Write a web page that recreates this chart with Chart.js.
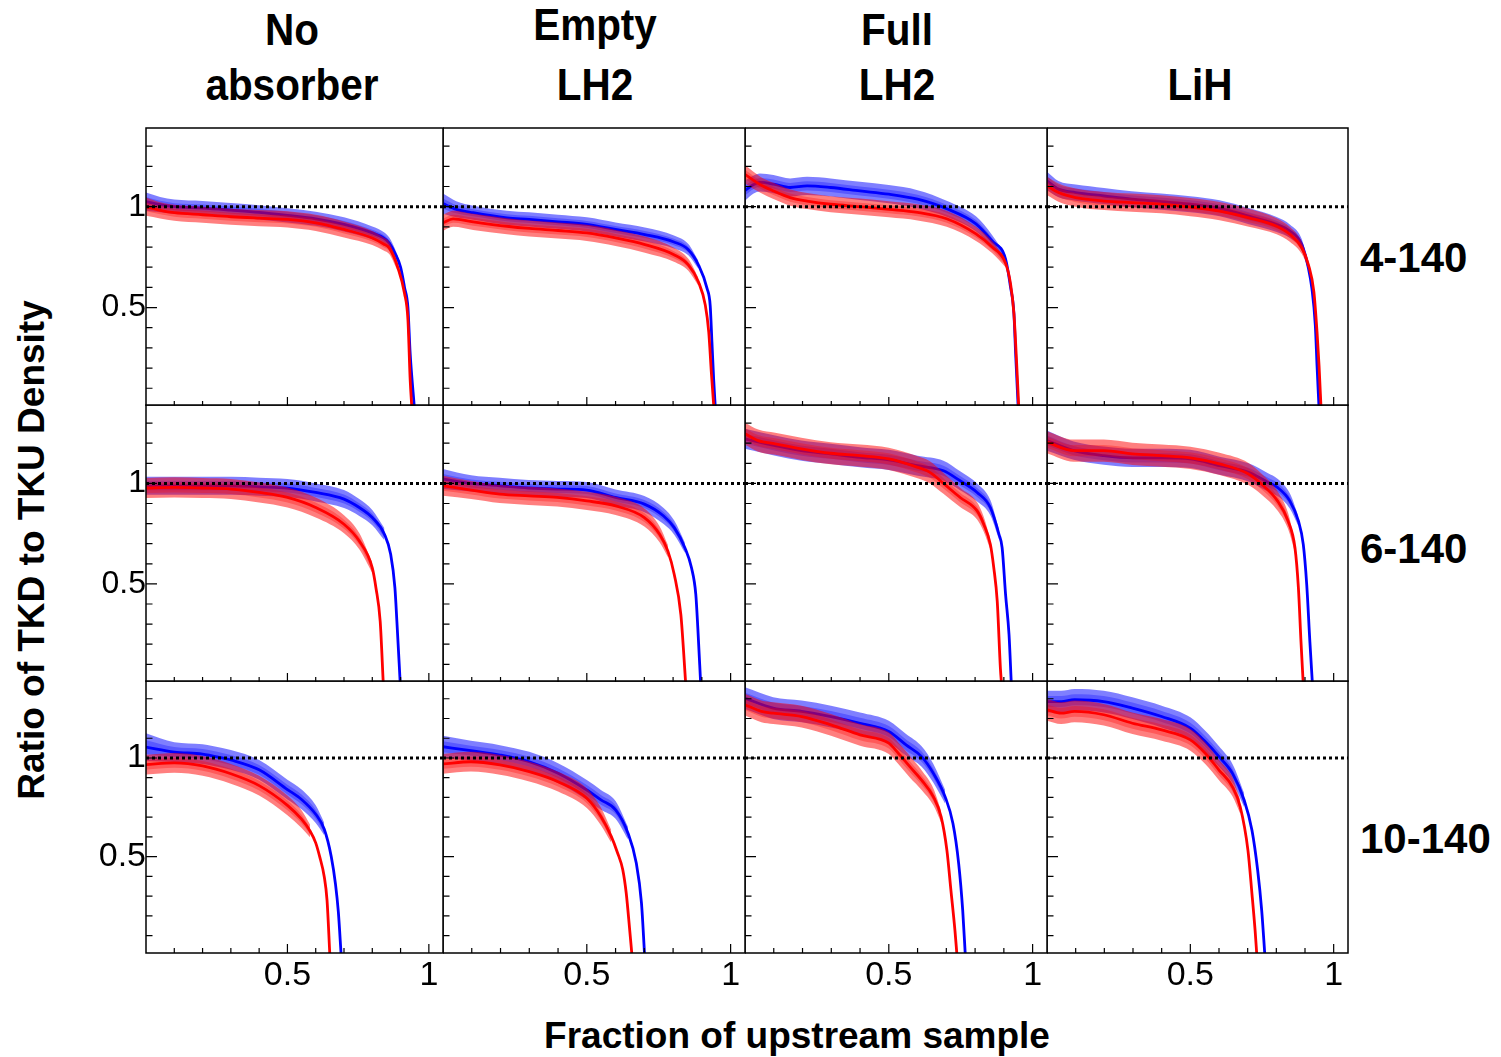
<!DOCTYPE html>
<html>
<head>
<meta charset="utf-8">
<script src="https://cdn.jsdelivr.net/npm/chart.js@4.4.1/dist/chart.umd.min.js"></script>
<style>
    html, body { margin: 0; padding: 0; background: #fff; }
    body { width: 1501px; height: 1057px; position: relative; overflow: hidden; font-family: "Liberation Sans", Arial, sans-serif; }
    canvas { position: absolute; }
    .txt { position: absolute; font-weight: bold; white-space: nowrap; color: #000; }
</style>
</head>
<body>
<script>
// [x, ratio, band half-width] for each curve
const blue_4_noAbs = [[0,1.025,.045],[0.05,1.01,.038],[0.1,1.0,.035],[0.2,0.993,.035],[0.3,0.983,.035],[0.4,0.972,.035],[0.5,0.957,.035],[0.6,0.94,.035],[0.7,0.912,.035],[0.8,0.87,.032],[0.84,0.845,.03],[0.86,0.82,.027],[0.88,0.77,.022],[0.9,0.70,.015],[0.914,0.60,0],[0.926,0.50,0],[0.934,0.27,0],[0.949,0,0]];
const red_4_noAbs = [[0,1.0,.045],[0.05,0.982,.04],[0.1,0.97,.04],[0.2,0.96,.04],[0.3,0.95,.04],[0.4,0.943,.04],[0.5,0.937,.04],[0.6,0.92,.04],[0.7,0.887,.04],[0.8,0.845,.035],[0.84,0.815,.032],[0.86,0.795,.03],[0.89,0.70,.02],[0.914,0.57,0],[0.926,0.44,0],[0.934,0.14,0],[0.94,0,0]];
const blue_4_emptyLH2 = [[0,1.015,.05],[0.046,0.987,.04],[0.105,0.97,.035],[0.222,0.945,.035],[0.3,0.937,.035],[0.4,0.925,.035],[0.5,0.912,.035],[0.6,0.887,.035],[0.702,0.862,.035],[0.803,0.825,.032],[0.853,0.787,.028],[0.888,0.712,.02],[0.918,0.595,0],[0.929,0.51,0],[0.935,0.33,0],[0.941,0.145,0],[0.947,0,0]];
const red_4_emptyLH2 = [[0,0.92,.04],[0.035,0.94,.04],[0.105,0.925,.04],[0.222,0.903,.04],[0.3,0.892,.04],[0.4,0.882,.04],[0.5,0.87,.04],[0.6,0.845,.04],[0.702,0.812,.04],[0.803,0.762,.035],[0.853,0.712,.03],[0.888,0.628,.02],[0.912,0.512,0],[0.924,0.378,0],[0.933,0.178,0],[0.942,0,0]];
const blue_4_fullLH2 = [[0,1.08,.05],[0.03,1.11,.045],[0.052,1.12,.045],[0.099,1.112,.045],[0.157,1.095,.045],[0.216,1.103,.045],[0.298,1.095,.045],[0.4,1.078,.045],[0.5,1.062,.045],[0.6,1.037,.045],[0.701,0.99,.04],[0.803,0.915,.037],[0.859,0.83,.03],[0.906,0.74,.02],[0.923,0.603,0],[0.935,0.47,0],[0.941,0.27,0],[0.95,0,0]];
const red_4_fullLH2 = [[0,1.16,.045],[0.052,1.11,.04],[0.099,1.078,.04],[0.157,1.045,.04],[0.216,1.028,.04],[0.298,1.012,.04],[0.4,1.0,.04],[0.5,0.987,.04],[0.6,0.972,.04],[0.701,0.94,.04],[0.803,0.865,.035],[0.859,0.8,.03],[0.906,0.72,.02],[0.923,0.62,0],[0.935,0.47,0],[0.944,0.237,0],[0.952,0,0]];
const blue_4_lih = [[0,1.128,.045],[0.04,1.087,.04],[0.1,1.07,.04],[0.199,1.053,.04],[0.295,1.037,.04],[0.398,1.025,.04],[0.5,1.012,.04],[0.602,0.992,.04],[0.704,0.953,.04],[0.801,0.912,.037],[0.848,0.878,.033],[0.889,0.812,.027],[0.912,0.695,.015],[0.924,0.595,0],[0.936,0.412,0],[0.942,0.212,0],[0.949,0,0]];
const red_4_lih = [[0,1.103,.045],[0.04,1.07,.045],[0.1,1.045,.045],[0.199,1.028,.045],[0.295,1.02,.045],[0.398,1.012,.045],[0.5,0.998,.045],[0.602,0.978,.045],[0.704,0.945,.045],[0.801,0.903,.04],[0.848,0.862,.037],[0.889,0.795,.03],[0.912,0.712,.02],[0.931,0.578,0],[0.942,0.378,0],[0.949,0.212,0],[0.956,0,0]];

const blue_6_noAbs = [[0,0.988,.045],[0.1,0.988,.045],[0.2,0.988,.045],[0.3,0.988,.045],[0.4,0.983,.045],[0.5,0.977,.045],[0.6,0.955,.045],[0.7,0.922,.045],[0.754,0.88,.042],[0.8,0.83,.038],[0.843,0.747,.03],[0.865,0.647,0],[0.88,0.48,0],[0.887,0.313,0],[0.899,0,0]];
const red_6_noAbs = [[0,0.977,.05],[0.1,0.98,.05],[0.2,0.977,.05],[0.3,0.972,.05],[0.4,0.955,.05],[0.5,0.93,.05],[0.6,0.88,.05],[0.7,0.797,.045],[0.754,0.713,.04],[0.8,0.58,.025],[0.813,0.48,0],[0.828,0.313,0],[0.839,0,0]];
const blue_6_emptyLH2 = [[0,1.022,.05],[0.098,1.0,.04],[0.197,0.988,.04],[0.298,0.977,.04],[0.397,0.972,.04],[0.5,0.967,.04],[0.6,0.93,.04],[0.7,0.897,.04],[0.767,0.838,.04],[0.804,0.78,.035],[0.841,0.68,.025],[0.864,0.58,0],[0.879,0.447,0],[0.886,0.28,0],[0.896,0,0]];
const red_6_emptyLH2 = [[0,0.988,.05],[0.098,0.967,.045],[0.197,0.947,.045],[0.298,0.938,.045],[0.397,0.93,.045],[0.5,0.913,.045],[0.6,0.888,.045],[0.7,0.83,.045],[0.753,0.747,.04],[0.782,0.663,.03],[0.804,0.547,0],[0.827,0.347,0],[0.844,0,0]];
const blue_6_fullLH2 = [[0,1.222,.05],[0.105,1.188,.05],[0.196,1.163,.05],[0.298,1.147,.05],[0.4,1.13,.05],[0.5,1.117,.05],[0.6,1.088,.05],[0.69,1.063,.05],[0.748,1.013,.047],[0.807,0.955,.045],[0.853,0.88,.038],[0.883,0.747,.025],[0.894,0.68,0],[0.906,0.447,0],[0.918,0.247,0],[0.926,0,0]];
const red_6_fullLH2 = [[0,1.247,.055],[0.046,1.213,.055],[0.105,1.197,.055],[0.196,1.172,.055],[0.298,1.15,.055],[0.4,1.138,.055],[0.5,1.122,.055],[0.6,1.08,.055],[0.643,1.055,.055],[0.69,1.0,.052],[0.748,0.93,.048],[0.807,0.863,.043],[0.83,0.797,.037],[0.853,0.697,.025],[0.865,0.58,0],[0.877,0.413,0],[0.888,0.08,0],[0.892,0,0]];
const blue_6_lih = [[0,1.213,.05],[0.093,1.163,.045],[0.198,1.138,.045],[0.298,1.127,.045],[0.4,1.127,.045],[0.5,1.122,.045],[0.602,1.088,.045],[0.703,1.055,.045],[0.771,1.005,.045],[0.804,0.98,.043],[0.847,0.913,.038],[0.877,0.813,.025],[0.894,0.697,0],[0.906,0.497,0],[0.917,0.213,0],[0.926,0,0]];
const red_6_lih = [[0,1.205,.055],[0.093,1.163,.055],[0.198,1.163,.055],[0.298,1.147,.055],[0.4,1.138,.055],[0.5,1.127,.055],[0.602,1.097,.055],[0.703,1.047,.055],[0.748,0.997,.052],[0.804,0.913,.048],[0.841,0.813,.04],[0.865,0.68,.025],[0.877,0.48,0],[0.886,0.213,0],[0.894,0,0]];

const blue_10_noAbs = [[0,1.055,.07],[0.1,1.03,.05],[0.2,1.02,.05],[0.27,1.0,.05],[0.3,0.99,.05],[0.4,0.94,.05],[0.5,0.84,.05],[0.55,0.79,.05],[0.6,0.715,.045],[0.63,0.64,.032],[0.655,0.5,0],[0.67,0.36,0],[0.68,0.22,0],[0.69,0,0]];
const red_10_noAbs = [[0,0.966,.05],[0.1,0.975,.05],[0.2,0.96,.05],[0.3,0.92,.05],[0.4,0.86,.05],[0.5,0.76,.05],[0.55,0.69,.045],[0.58,0.63,.032],[0.6,0.57,0],[0.614,0.5,0],[0.63,0.4,0],[0.64,0.28,0],[0.65,0,0]];
const blue_10_emptyLH2 = [[0,1.057,.055],[0.097,1.037,.05],[0.198,1.015,.05],[0.3,0.981,.05],[0.4,0.923,.05],[0.5,0.838,.05],[0.549,0.788,.05],[0.6,0.737,.045],[0.643,0.62,.032],[0.672,0.468,0],[0.69,0.266,0],[0.701,0,0]];
const red_10_emptyLH2 = [[0,0.97,.05],[0.097,0.981,.05],[0.198,0.965,.05],[0.3,0.931,.05],[0.4,0.88,.05],[0.5,0.796,.05],[0.549,0.704,.045],[0.585,0.603,.032],[0.607,0.519,0],[0.625,0.434,0],[0.637,0.316,0],[0.649,0.131,0],[0.657,0,0]];
const blue_10_fullLH2 = [[0,1.303,.055],[0.098,1.253,.055],[0.197,1.236,.055],[0.299,1.21,.055],[0.4,1.176,.055],[0.5,1.134,.055],[0.56,1.066,.055],[0.614,1.007,.052],[0.655,0.922,.048],[0.696,0.803,.035],[0.723,0.668,0],[0.743,0.464,0],[0.757,0.227,0],[0.766,0,0]];
const red_10_fullLH2 = [[0,1.27,.055],[0.057,1.236,.055],[0.098,1.227,.055],[0.197,1.21,.055],[0.299,1.168,.055],[0.4,1.117,.055],[0.5,1.075,.055],[0.533,1.024,.055],[0.573,0.956,.055],[0.614,0.888,.05],[0.655,0.803,.043],[0.682,0.702,.03],[0.702,0.532,0],[0.716,0.329,0],[0.73,0.125,0],[0.737,0,0]];
const blue_10_lih = [[0,1.286,.055],[0.049,1.286,.055],[0.096,1.295,.055],[0.198,1.286,.055],[0.298,1.253,.055],[0.4,1.21,.055],[0.5,1.151,.055],[0.552,1.083,.055],[0.6,1.007,.052],[0.647,0.922,.048],[0.688,0.786,.035],[0.715,0.634,0],[0.735,0.43,0],[0.749,0.227,0],[0.76,0,0]];
const red_10_lih = [[0,1.244,.055],[0.049,1.227,.055],[0.096,1.236,.055],[0.198,1.219,.055],[0.298,1.176,.055],[0.4,1.142,.055],[0.5,1.092,.055],[0.552,1.024,.055],[0.6,0.939,.052],[0.647,0.854,.048],[0.674,0.753,.035],[0.701,0.532,0],[0.715,0.312,0],[0.726,0.125,0],[0.732,0,0]];

const colTitles = [["No", "absorber"], ["Empty", "LH2"], ["Full", "LH2"], ["", "LiH"]];
const rowLabels = ["4-140", "6-140", "10-140"];
const xTitle = "Fraction of upstream sample";
const yTitle = "Ratio of TKD to TKU Density";
const xTickValues = [0.5, 1];
const xTickLabels = ["0.5", "1"];
const yTickValues = [0.5, 1];
const yTickLabels = ["0.5", "1"];
const xMinorTicks = [0.1, 0.2, 0.3, 0.4, 0.5, 0.6, 0.7, 0.8, 0.9, 1];
const yMinorTicks = [0.1, 0.2, 0.3, 0.4, 0.5, 0.6, 0.7, 0.8, 0.9, 1, 1.1, 1.2, 1.3];
const refLine = 1;
const xRange = [0, 1.05];
const yRange = [0.012, 1.39];

const panels = [
    [[blue_4_noAbs, red_4_noAbs], [blue_4_emptyLH2, red_4_emptyLH2], [blue_4_fullLH2, red_4_fullLH2], [blue_4_lih, red_4_lih]],
    [[blue_6_noAbs, red_6_noAbs], [blue_6_emptyLH2, red_6_emptyLH2], [blue_6_fullLH2, red_6_fullLH2], [blue_6_lih, red_6_lih]],
    [[blue_10_noAbs, red_10_noAbs], [blue_10_emptyLH2, red_10_emptyLH2], [blue_10_fullLH2, red_10_fullLH2], [blue_10_lih, red_10_lih]]
];

// page layout (frame edges in px)
const colEdges = [146, 443, 745, 1047, 1348];
const rowEdges = [128, 405, 681, 952];
const FONT = "'Liberation Sans', Arial, sans-serif";

const addText = (text, css) => {
    const d = document.createElement("div");
    d.className = "txt";
    d.textContent = text;
    Object.assign(d.style, css);
    document.body.appendChild(d);
};

const bandSets = (pts, rgb, order) => {
    const withErr = pts.filter(p => p[2] > 0);
    const edge = k => withErr.map(p => ({ x: p[0], y: p[1] + k * p[2] }));
    const base = { borderWidth: 0, pointRadius: 0, fill: false, cubicInterpolationMode: "monotone" };
    return [
        { ...base, data: edge(1), order },
        { ...base, data: edge(-1), fill: "-1", backgroundColor: `rgba(${rgb},0.5)`, order },
        { ...base, data: edge(0.5), order: order - 0.5 },
        { ...base, data: edge(-0.5), fill: "-1", backgroundColor: `rgba(${rgb},0.3)`, order: order - 0.5 }
    ];
};

const lineSet = (pts, color, order) => ({
    data: pts.map(p => ({ x: p[0], y: p[1] })),
    borderColor: color, borderWidth: 2.8, pointRadius: 0, fill: false,
    cubicInterpolationMode: "monotone", order
});

const frameTicks = {
    id: "frameTicks",
    afterDraw(chart) {
        const { ctx, chartArea: a, scales: { x, y } } = chart;
        ctx.save();
        ctx.strokeStyle = "#000";
        ctx.lineWidth = 1.2;
        ctx.beginPath();
        yMinorTicks.forEach(v => {
            const py = y.getPixelForValue(v);
            const len = yTickValues.includes(v) ? 11 : 6.5;
            ctx.moveTo(a.left, py);
            ctx.lineTo(a.left + len, py);
        });
        xMinorTicks.forEach(v => {
            const px = x.getPixelForValue(v);
            const len = xTickValues.includes(v) ? 9 : 5;
            ctx.moveTo(px, a.bottom);
            ctx.lineTo(px, a.bottom - len);
        });
        ctx.stroke();
        ctx.lineWidth = 1.5;
        ctx.strokeRect(a.left, a.top, a.right - a.left, a.bottom - a.top);
        ctx.restore();
    }
};

panels.forEach((row, r) => {
    row.forEach(([blue, red], c) => {
        const padL = c === 0 ? 70 : 0;
        const padB = r === 2 ? 50 : 0;
        const w = colEdges[c + 1] - colEdges[c];
        const h = rowEdges[r + 1] - rowEdges[r];
        const cv = document.createElement("canvas");
        cv.width = padL + w + 1;
        cv.height = h + padB + 2;
        cv.style.left = (colEdges[c] - padL) + "px";
        cv.style.top = (rowEdges[r] - 1) + "px";
        document.body.appendChild(cv);

        const datasets = [
            ...bandSets(blue, "0,0,255", 10),
            lineSet(blue, "#0000ff", 8),
            ...bandSets(red, "255,0,0", 7),
            lineSet(red, "#ff0000", 5),
            {
                data: [{ x: xRange[0], y: refLine }, { x: xRange[1], y: refLine }],
                borderColor: "#000", borderWidth: 3, borderDash: [3, 3], pointRadius: 0, fill: false, order: 1
            }
        ];

        new Chart(cv, {
            type: "line",
            data: { datasets },
            options: {
                responsive: false,
                animation: false,
                devicePixelRatio: 1,
                layout: { padding: { top: 1, right: 1, left: 0, bottom: 0 } },
                plugins: { legend: { display: false }, tooltip: { enabled: false } },
                scales: {
                    x: {
                        type: "linear", min: xRange[0], max: xRange[1],
                        grid: { display: false, drawTicks: false }, border: { display: false },
                        afterBuildTicks: s => { s.ticks = xTickValues.map(v => ({ value: v })); },
                        ticks: {
                            display: r === 2, autoSkip: false, maxRotation: 0, padding: 2, color: "#000",
                            font: { family: FONT, size: 34 },
                            callback: v => xTickLabels[xTickValues.indexOf(v)]
                        },
                        afterFit: s => { s.height = padB; s.paddingLeft = 0; s.paddingRight = 0; }
                    },
                    y: {
                        type: "linear", min: yRange[0], max: yRange[1],
                        grid: { display: false, drawTicks: false }, border: { display: false },
                        afterBuildTicks: s => { s.ticks = yTickValues.map(v => ({ value: v })); },
                        ticks: {
                            display: c === 0, autoSkip: false, padding: 0, color: "#000",
                            font: { family: FONT, size: r === 2 ? 34 : 32 },
                            callback: v => yTickLabels[yTickValues.indexOf(v)]
                        },
                        afterFit: s => { s.width = padL; s.paddingTop = 0; s.paddingBottom = 0; }
                    }
                }
            },
            plugins: [frameTicks]
        });
    });
});

// column titles
const titleCenters = [292, 595, 897, 1200];
colTitles.forEach(([l1, l2], c) => {
    const css = { fontSize: "44px", lineHeight: "44px", left: titleCenters[c] + "px", transform: "translateX(-50%) scaleX(0.92)" };
    if (l1) addText(l1, { ...css, top: (c === 1 ? 3 : 8) + "px" });
    addText(l2, { ...css, top: "63px" });
});

// row labels
const rowLabelTops = [237, 528, 818];
rowLabels.forEach((t, r) => addText(t, { fontSize: "42px", lineHeight: "42px", left: "1360px", top: rowLabelTops[r] + "px" }));

// axis titles
addText(xTitle, { fontSize: "37px", lineHeight: "37px", left: "797px", top: "1017px", transform: "translateX(-50%)" });
addText(yTitle, { fontSize: "37px", lineHeight: "37px", left: "31px", top: "550px", transform: "translate(-50%,-50%) rotate(-90deg)" });
</script>
</body>
</html>
